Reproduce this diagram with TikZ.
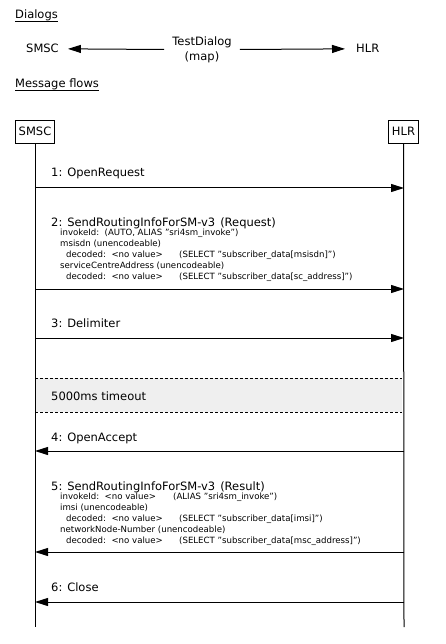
\documentclass[tikz,border=0pt]{standalone}
\usepackage{fontspec}
\setmainfont{DejaVu Sans}
\usetikzlibrary{arrows.meta}
\definecolor{tbg}{HTML}{EFEFEF}
\begin{document}
\begin{tikzpicture}[x=1pt,y=-1pt,
  lbl/.style={font=\fontsize{11.5}{13}\selectfont, inner sep=0pt, anchor=base west},
  sml/.style={font=\fontsize{8.6}{10}\selectfont, inner sep=0pt, anchor=base west},
  life/.style={line width=1pt},
  msg/.style={line width=1pt, -{Triangle[length=13pt,width=8pt]}},
  actor/.style={draw, fill=white, line width=0.8pt, font=\fontsize{11.5}{13}\selectfont,
    minimum height=23pt, inner xsep=3.5pt, inner ysep=0pt},
  sepline/.style={dash pattern=on 3pt off 2pt, line width=0.6pt},
  uline/.style={line width=0.6pt}]
\useasboundingbox (0,0) rectangle (445,644);

% ---------- Dialogs header ----------
\node[lbl] (dia) at (15,19) {Dialogs};
\draw[uline] ([yshift=-2.2pt]dia.base west) -- ([yshift=-2.2pt]dia.base east);
\node[lbl] (hsmsc) at (26,53) {SMSC};
\node[lbl] (hhlr) at (356,53) {HLR};
\node[font=\fontsize{11.5}{15}\selectfont, align=center, inner xsep=8pt, inner ysep=0pt] (dlg) at (202,49.5) {TestDialog\\(map)};
\draw[msg, shorten >=9pt] (dlg.west) -- (hsmsc.east);
\draw[msg, shorten >=11pt] (dlg.east) -- (hhlr.west);
\node[lbl] (mf) at (15,88) {Message flows};
\draw[uline] ([yshift=-2.2pt]mf.base west) -- ([yshift=-2.2pt]mf.base east);

% ---------- timeout band (background) ----------
\coordinate (t1s) at (35,378); \coordinate (t1h) at (402,378);
\coordinate (t2s) at (35,412); \coordinate (t2h) at (402,412);
\fill[tbg] (t1s) rectangle (t2h);

% ---------- actors and lifelines ----------
\coordinate (smscend) at (35,627);
\coordinate (hlrend) at (404,627);
\node[actor] (smsc) at (35,131.5) {SMSC};
\node[actor] (hlr) at (403.5,131.5) {HLR};
\draw[life] (smsc) -- (smscend);
\draw[life] (hlr) -- (hlrend);

% ---------- 1: OpenRequest ----------
\node[lbl] (m1) at (51,177) {1: OpenRequest};
\coordinate (a1s) at (35,188); \coordinate (a1h) at (404,188);
\draw[msg] (a1s) -- (a1h);

% ---------- 2: SendRoutingInfoForSM-v3 (Request) ----------
\node[lbl] (m2) at (51,226) {2: SendRoutingInfoForSM-v3\hspace{5pt}(Request)};
\node[sml] (m2a) at (60,235) {invokeId:\ \ (AUTO, ALIAS "sri4sm\_invoke")};
\node[sml] (m2b) at (60,246) {msisdn (unencodeable)};
\node[sml] (m2c) at (66,257) {decoded:\ \ <no value>};
\node[sml] (m2cc) at (179,257) {(SELECT "subscriber\_data[msisdn]")};
\node[sml] (m2d) at (60,268) {serviceCentreAddress (unencodeable)};
\node[sml] (m2e) at (66,279) {decoded:\ \ <no value>};
\node[sml] (m2ee) at (179,279) {(SELECT "subscriber\_data[sc\_address]")};
\coordinate (a2s) at (35,289); \coordinate (a2h) at (404,289);
\draw[msg] (a2s) -- (a2h);

% ---------- 3: Delimiter ----------
\node[lbl] (m3) at (51,327) {3: Delimiter};
\coordinate (a3s) at (35,338); \coordinate (a3h) at (404,338);
\draw[msg] (a3s) -- (a3h);

% ---------- timeout ----------
\draw[sepline] (t1s) -- (t1h);
\draw[sepline] (t2s) -- (t2h);
\node[lbl] (tmo) at (51,400) {5000ms timeout};

% ---------- 4: OpenAccept ----------
\node[lbl] (m4) at (51,441) {4: OpenAccept};
\coordinate (a4s) at (35,451); \coordinate (a4h) at (404,451);
\draw[msg] (a4h) -- (a4s);

% ---------- 5: SendRoutingInfoForSM-v3 (Result) ----------
\node[lbl] (m5) at (51,490) {5: SendRoutingInfoForSM-v3\hspace{5pt}(Result)};
\node[sml] (m5a) at (60,499) {invokeId:\ \ <no value>};
\node[sml] (m5aa) at (173,499) {(ALIAS "sri4sm\_invoke")};
\node[sml] (m5b) at (60,510) {imsi (unencodeable)};
\node[sml] (m5c) at (66,521) {decoded:\ \ <no value>};
\node[sml] (m5cc) at (179,521) {(SELECT "subscriber\_data[imsi]")};
\node[sml] (m5d) at (60,532) {networkNode-Number (unencodeable)};
\node[sml] (m5e) at (66,543) {decoded:\ \ <no value>};
\node[sml] (m5ee) at (179,543) {(SELECT "subscriber\_data[msc\_address]")};
\coordinate (a5s) at (35,552); \coordinate (a5h) at (404,552);
\draw[msg] (a5h) -- (a5s);

% ---------- 6: Close ----------
\node[lbl] (m6) at (51,591) {6: Close};
\coordinate (a6s) at (35,602); \coordinate (a6h) at (404,602);
\draw[msg] (a6h) -- (a6s);
\end{tikzpicture}
\end{document}
